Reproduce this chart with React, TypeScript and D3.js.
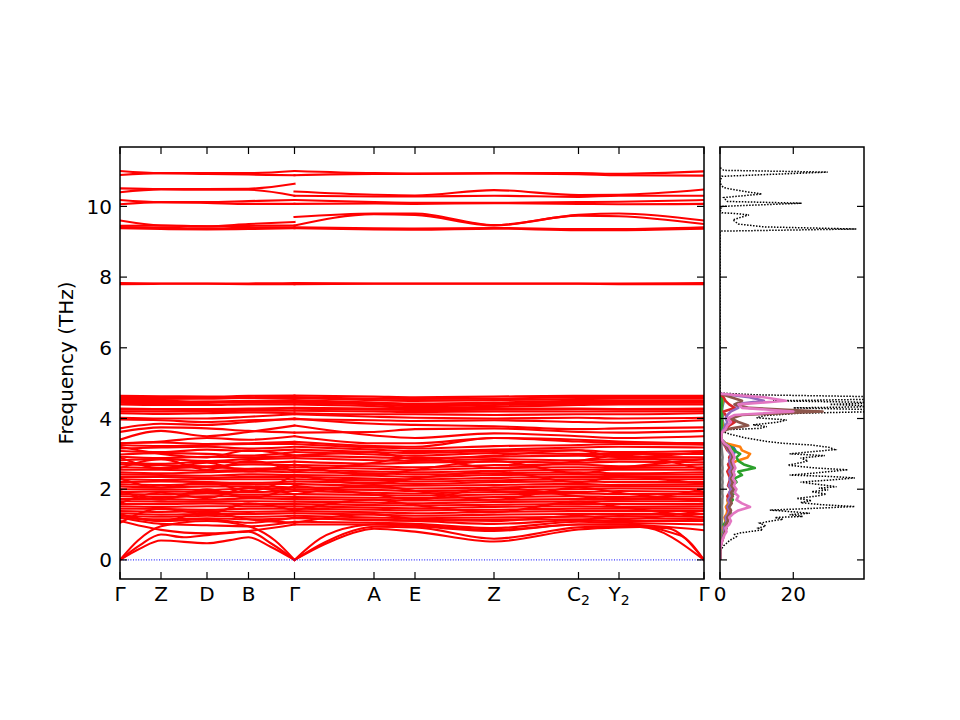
import * as d3 from 'd3';
import React from 'react';

// k-path: tick positions along the path (same units as the x axis)
const KPOS = [0, 41, 87, 128.5, 174.5, 254, 295, 374, 458.5, 499, 584];
const KLABELS: [string, string][] = [
  ['Γ', ''], ['Z', ''], ['D', ''], ['B', ''], ['Γ', ''], ['A', ''],
  ['E', ''], ['Z', ''], ['C', '2'], ['Y', '2'], ['Γ', ''],
];
const FREQ_TICKS = [0, 2, 4, 6, 8, 10];
const DOS_TICKS = [0, 20];

// bands: 5 values on Γ-Z-D-B-Γ, then 7 values on Γ-A-E-Z-C2-Y2-Γ
const UPPER_BANDS = [
  [11.0, 10.94, 10.94, 10.94, 11.0, 11.0, 10.94, 10.93, 10.94, 10.94, 10.92, 10.99],
  [10.89, 10.94, 10.92, 10.9, 10.88, 10.88, 10.92, 10.92, 10.93, 10.91, 10.88, 10.87],
  [10.51, 10.49, 10.49, 10.5, 10.64, 10.42, 10.33, 10.31, 10.46, 10.32, 10.33, 10.48],
  [10.4, 10.48, 10.47, 10.47, 10.3, 10.3, 10.28, 10.28, 10.3, 10.27, 10.3, 10.3],
  [10.18, 10.12, 10.12, 10.15, 10.18, 10.18, 10.12, 10.1, 10.1, 10.12, 10.13, 10.18],
  [10.06, 10.12, 10.1, 10.07, 10.07, 10.07, 10.08, 10.07, 10.09, 10.07, 10.06, 10.07],
  [9.6, 9.46, 9.44, 9.5, 9.56, 9.7, 9.8, 9.8, 9.47, 9.76, 9.8, 9.6],
  [9.45, 9.46, 9.44, 9.45, 9.46, 9.46, 9.78, 9.76, 9.46, 9.74, 9.72, 9.5],
  [9.41, 9.4, 9.38, 9.4, 9.41, 9.41, 9.38, 9.37, 9.39, 9.36, 9.36, 9.41],
  [9.38, 9.36, 9.35, 9.36, 9.38, 9.38, 9.35, 9.34, 9.37, 9.33, 9.33, 9.37],
  [7.83, 7.82, 7.82, 7.82, 7.83, 7.83, 7.82, 7.82, 7.82, 7.82, 7.82, 7.83],
  [7.8, 7.81, 7.81, 7.8, 7.8, 7.8, 7.81, 7.81, 7.81, 7.81, 7.8, 7.8],
];

const MID_BANDS = [
  [4.64, 4.63, 4.62, 4.64, 4.65, 4.65, 4.62, 4.6, 4.62, 4.64, 4.64, 4.64],
  [4.6, 4.58, 4.59, 4.6, 4.61, 4.61, 4.56, 4.55, 4.56, 4.6, 4.6, 4.6],
  [4.55, 4.55, 4.56, 4.58, 4.58, 4.58, 4.52, 4.5, 4.52, 4.55, 4.56, 4.56],
  [4.5, 4.5, 4.48, 4.5, 4.52, 4.52, 4.45, 4.42, 4.45, 4.5, 4.5, 4.5],
  [4.47, 4.46, 4.47, 4.48, 4.47, 4.47, 4.44, 4.4, 4.42, 4.46, 4.47, 4.48],
  [4.45, 4.42, 4.44, 4.45, 4.45, 4.45, 4.4, 4.35, 4.38, 4.42, 4.44, 4.45],
  [4.4, 4.38, 4.38, 4.4, 4.4, 4.4, 4.35, 4.3, 4.33, 4.38, 4.4, 4.4],
  [4.28, 4.27, 4.27, 4.28, 4.3, 4.3, 4.28, 4.27, 4.28, 4.28, 4.27, 4.28],
  [4.25, 4.25, 4.24, 4.25, 4.28, 4.28, 4.25, 4.24, 4.25, 4.26, 4.25, 4.25],
  [4.2, 4.2, 4.2, 4.22, 4.22, 4.22, 4.2, 4.18, 4.2, 4.2, 4.2, 4.2],
  [4.15, 4.13, 4.15, 4.17, 4.15, 4.15, 4.12, 4.12, 4.1, 4.12, 4.12, 4.15],
  [4.02, 4.0, 4.0, 4.05, 4.12, 4.12, 4.05, 4.02, 4.0, 4.02, 4.0, 4.02],
  [3.97, 3.95, 3.9, 3.95, 3.98, 3.98, 3.95, 3.93, 3.95, 3.9, 3.88, 3.95],
  [3.72, 3.85, 3.82, 3.9, 4.0, 4.0, 3.85, 3.82, 3.78, 3.7, 3.72, 3.75],
  [3.62, 3.75, 3.72, 3.65, 3.6, 3.6, 3.62, 3.7, 3.72, 3.62, 3.6, 3.65],
  [3.4, 3.65, 3.5, 3.62, 3.8, 3.8, 3.52, 3.45, 3.58, 3.5, 3.45, 3.5],
  [3.3, 3.35, 3.45, 3.4, 3.5, 3.5, 3.3, 3.3, 3.45, 3.4, 3.35, 3.3],
];

const DENSE_BANDS = [
  [3.3, 3.32, 3.28, 3.3, 3.34, 3.34, 3.22, 3.2, 3.45, 3.35, 3.32, 3.3],
  [3.25, 3.22, 3.25, 3.28, 3.28, 3.28, 3.18, 3.15, 3.22, 3.25, 3.28, 3.26],
  [3.15, 3.18, 3.2, 3.15, 3.2, 3.2, 3.12, 3.08, 3.12, 3.18, 3.2, 3.18],
  [3.08, 3.05, 3.12, 3.08, 3.12, 3.12, 3.05, 3.02, 3.08, 3.1, 3.05, 3.08],
  [2.98, 3.02, 3.0, 2.95, 3.05, 3.05, 2.98, 2.95, 3.02, 3.0, 3.0, 3.0],
  [2.92, 2.88, 2.92, 2.9, 2.95, 2.95, 2.9, 2.88, 2.92, 2.95, 2.92, 2.9],
  [2.82, 2.85, 2.8, 2.85, 2.88, 2.88, 2.82, 2.8, 2.85, 2.82, 2.85, 2.84],
  [2.75, 2.72, 2.78, 2.75, 2.78, 2.78, 2.72, 2.75, 2.78, 2.75, 2.78, 2.76],
  [2.7, 2.68, 2.65, 2.7, 2.68, 2.68, 2.65, 2.62, 2.68, 2.7, 2.65, 2.7],
  [2.62, 2.6, 2.62, 2.58, 2.62, 2.62, 2.58, 2.55, 2.6, 2.62, 2.6, 2.62],
  [2.55, 2.55, 2.52, 2.55, 2.55, 2.55, 2.5, 2.48, 2.52, 2.55, 2.55, 2.55],
  [2.48, 2.45, 2.48, 2.5, 2.48, 2.48, 2.45, 2.42, 2.45, 2.48, 2.45, 2.48],
  [2.42, 2.4, 2.38, 2.42, 2.4, 2.4, 2.38, 2.35, 2.4, 2.42, 2.4, 2.42],
  [2.35, 2.35, 2.32, 2.35, 2.35, 2.35, 2.3, 2.28, 2.32, 2.35, 2.35, 2.35],
  [2.28, 2.26, 2.28, 2.28, 2.28, 2.28, 2.25, 2.22, 2.25, 2.28, 2.28, 2.28],
  [2.2, 2.22, 2.2, 2.18, 2.22, 2.22, 2.18, 2.15, 2.2, 2.22, 2.2, 2.2],
  [2.14, 2.12, 2.15, 2.14, 2.15, 2.15, 2.1, 2.1, 2.12, 2.15, 2.12, 2.14],
  [2.08, 2.05, 2.08, 2.08, 2.05, 2.05, 2.05, 2.02, 2.05, 2.08, 2.08, 2.08],
  [2.0, 2.0, 1.98, 2.02, 2.0, 2.0, 1.98, 1.95, 1.98, 2.0, 2.02, 2.0],
  [1.92, 1.94, 1.92, 1.92, 1.95, 1.95, 1.9, 1.88, 1.92, 1.92, 1.95, 1.92],
  [1.86, 1.85, 1.88, 1.85, 1.86, 1.86, 1.84, 1.82, 1.85, 1.88, 1.86, 1.86],
  [1.8, 1.78, 1.8, 1.8, 1.78, 1.78, 1.76, 1.75, 1.78, 1.8, 1.78, 1.8],
  [1.72, 1.72, 1.7, 1.74, 1.72, 1.72, 1.7, 1.68, 1.7, 1.72, 1.72, 1.72],
  [1.66, 1.65, 1.65, 1.66, 1.65, 1.65, 1.62, 1.6, 1.64, 1.65, 1.66, 1.66],
  [1.58, 1.58, 1.6, 1.58, 1.58, 1.58, 1.55, 1.54, 1.56, 1.58, 1.58, 1.58],
  [1.52, 1.5, 1.52, 1.52, 1.52, 1.52, 1.48, 1.46, 1.5, 1.52, 1.5, 1.52],
  [1.45, 1.44, 1.42, 1.45, 1.45, 1.45, 1.42, 1.4, 1.42, 1.45, 1.45, 1.45],
  [1.38, 1.36, 1.38, 1.36, 1.38, 1.38, 1.35, 1.32, 1.36, 1.38, 1.38, 1.38],
  [1.32, 1.28, 1.3, 1.3, 1.32, 1.32, 1.28, 1.25, 1.28, 1.3, 1.3, 1.3],
  [1.25, 1.22, 1.25, 1.22, 1.25, 1.25, 1.2, 1.18, 1.2, 1.22, 1.24, 1.22],
  [1.18, 1.15, 1.18, 1.15, 1.18, 1.18, 1.14, 1.12, 1.14, 1.15, 1.18, 1.15],
  // branches that wander across the block
  [1.05, 1.45, 1.3, 1.6, 1.4, 1.4, 1.7, 1.55, 1.35, 1.65, 1.5, 1.2],
  [2.9, 2.6, 2.75, 2.5, 2.7, 2.7, 2.4, 2.55, 2.8, 2.45, 2.6, 2.85],
  [1.6, 1.9, 1.75, 2.05, 1.85, 1.85, 2.1, 1.95, 1.7, 2.05, 1.9, 1.65],
  [2.3, 2.05, 2.2, 1.95, 2.4, 2.4, 2.15, 2.3, 2.5, 2.2, 2.35, 2.15],
  [1.25, 1.1, 1.35, 1.15, 1.05, 1.05, 1.3, 1.15, 1.1, 1.25, 1.15, 1.4],
  [3.2, 3.0, 2.9, 3.1, 2.95, 2.95, 3.05, 2.85, 2.95, 3.1, 2.9, 3.05],
  [2.6, 2.85, 2.55, 2.8, 2.5, 2.5, 2.75, 2.9, 2.6, 2.8, 2.95, 2.55],
  [1.95, 1.7, 2.0, 1.75, 2.1, 2.1, 1.85, 1.7, 2.05, 1.8, 1.7, 2.0],
];

const LOW_BANDS = [
  [1.1, 0.85, 0.75, 0.82, 1.0, 1.0, 1.0, 0.95, 0.82, 1.0, 1.0, 0.84],
  [1.2, 1.02, 0.98, 0.95, 1.08, 1.08, 1.05, 1.02, 0.9, 1.08, 1.05, 1.0],
  [1.3, 1.1, 1.15, 1.05, 1.2, 1.2, 1.12, 1.1, 1.02, 1.12, 1.1, 1.1],
];

// acoustic branches, sampled as [q, frequency]
const ACOUSTIC_LEFT: [number, number][][] = [
  [[0, 0], [20, 0.32], [41, 0.55], [87, 0.47], [110, 0.56], [128.5, 0.64], [150, 0.38], [174.5, 0]],
  [[0, 0], [20, 0.42], [41, 0.72], [64, 0.64], [87, 0.7], [128.5, 0.8], [152, 0.45], [174.5, 0]],
  [[0, 0], [18, 0.55], [41, 0.95], [87, 1.1], [128.5, 0.95], [155, 0.55], [174.5, 0]],
];
const ACOUSTIC_RIGHT: [number, number][][] = [
  [[174.5, 0], [205, 0.45], [240, 0.82], [254, 0.88], [295, 0.8], [374, 0.52], [458.5, 0.86], [499, 0.92], [520, 0.93], [584, 0]],
  [[174.5, 0], [205, 0.5], [240, 0.88], [254, 0.94], [295, 0.92], [374, 0.6], [458.5, 0.92], [499, 0.95], [547, 0.9], [584, 0]],
  [[174.5, 0], [200, 0.6], [235, 0.95], [254, 1.0], [295, 0.98], [374, 0.85], [458.5, 1.0], [499, 1.0], [560, 0.7], [584, 0]],
];

// total DOS as [frequency, states]
const TOTAL_DOS: [number, number][] = [
  [0, 0], [0.28, 0.2], [0.4, 1.0], [0.47, 1.8], [0.55, 2.6], [0.66, 4.5], [0.72, 4.0], [0.76, 5.4],
  [0.8, 8.0], [0.85, 11.7], [0.9, 10.5], [0.96, 12.5], [1.04, 10.9], [1.1, 14], [1.15, 17.2], [1.2, 15],
  [1.23, 22.6], [1.28, 19], [1.32, 24.5], [1.36, 20], [1.41, 13.6], [1.46, 26], [1.51, 36.8], [1.56, 28],
  [1.62, 22], [1.68, 25], [1.74, 20.9], [1.8, 26], [1.86, 29], [1.93, 25], [1.98, 29.5], [2.03, 27],
  [2.07, 31.8], [2.12, 28], [2.2, 22], [2.26, 30], [2.32, 36.8], [2.36, 30], [2.4, 19], [2.45, 25],
  [2.5, 30], [2.55, 34.9], [2.6, 26], [2.68, 18.5], [2.75, 22], [2.8, 24], [2.88, 22], [2.95, 28.6],
  [3.0, 19], [3.05, 24], [3.12, 31.3], [3.18, 30], [3.25, 25], [3.3, 17], [3.35, 12.8], [3.45, 7],
  [3.55, 3], [3.62, 1.0], [3.68, 0.8], [3.72, 10.9], [3.77, 12.8], [3.82, 9], [3.9, 16], [3.96, 18.2],
  [4.02, 10], [4.08, 12], [4.15, 21.8], [4.2, 45], [4.25, 42], [4.3, 20], [4.34, 45], [4.4, 30],
  [4.45, 45], [4.5, 14.5], [4.55, 45], [4.62, 40], [4.67, 10], [4.72, 0],
  [9.3, 0], [9.36, 37.2], [9.42, 12], [9.5, 5], [9.62, 3.5], [9.7, 6], [9.76, 7.9], [9.8, 4],
  [9.82, 0.5], [9.9, 0], [10.0, 0.5], [10.09, 22.3], [10.14, 2], [10.25, 1], [10.35, 11.4], [10.45, 5],
  [10.53, 1], [10.6, 0.3], [10.7, 0], [10.85, 0.5], [10.97, 29.4], [11.02, 1], [11.1, 0],
];

// partial DOS sampled every 0.1 THz from 0 to 4.7 THz
const PDOS_FREQ = d3.range(48).map((i) => i / 10);
const PDOS_GRAY = [0, 0, 0, 0, 0.1, 0.2, 0.3, 0.3, 0.4, 0.4, 0.5, 0.5, 0.5, 0.6, 0.6, 0.5, 0.6, 0.6, 0.7, 0.6, 0.7, 0.6, 0.7, 0.6, 0.7, 0.6, 0.7, 0.6, 0.6, 0.7, 0.6, 0.5, 0.4, 0.3, 0.2, 0.1, 0.2, 0.3, 0.4, 0.4, 0.3, 0.4, 0.5, 0.5, 0.4, 0.5, 0.4, 0];
const PDOS_BLUE = [0, 0, 0, 0, 0.2, 0.4, 0.6, 0.8, 1.2, 1.0, 1.5, 1.8, 1.4, 2.0, 2.2, 1.8, 2.5, 2.0, 2.8, 3.0, 3.5, 2.6, 3.0, 3.2, 2.8, 3.8, 2.5, 3.0, 2.6, 3.5, 3.8, 4.2, 3.6, 1.5, 0.5, 0.2, 0.2, 0.8, 1.0, 0.8, 0.6, 0.8, 0.5, 0.6, 0.8, 1.0, 0.6, 0];
const PDOS_ORANGE = [0, 0, 0, 0, 0.1, 0.3, 0.5, 0.6, 1.0, 0.8, 1.2, 1.5, 1.2, 1.8, 2.0, 1.6, 2.2, 2.0, 2.5, 2.8, 3.0, 2.4, 3.2, 2.8, 3.0, 3.5, 4.0, 3.0, 4.5, 7.5, 8.2, 6.0, 5.5, 1.5, 0.4, 0.1, 0.2, 0.5, 0.8, 0.6, 0.5, 0.6, 0.4, 0.5, 0.6, 0.8, 0.5, 0];
const PDOS_GREEN = [0, 0, 0, 0, 0.1, 0.3, 0.5, 0.7, 1.0, 1.2, 1.0, 1.8, 1.5, 3.0, 2.5, 2.0, 2.5, 3.5, 3.0, 4.0, 3.5, 3.0, 4.5, 3.8, 6.0, 5.0, 9.5, 6.5, 5.0, 4.5, 5.5, 3.8, 3.0, 1.2, 0.3, 0.1, 0.2, 0.4, 0.6, 0.5, 0.4, 0.5, 0.4, 0.4, 0.5, 0.6, 0.4, 0];
const PDOS_RED = [0, 0, 0, 0, 0.2, 0.5, 0.8, 1.0, 1.5, 1.2, 1.8, 2.0, 1.6, 2.5, 2.2, 2.0, 2.8, 2.4, 2.0, 2.6, 3.0, 2.2, 2.5, 2.8, 2.4, 2.0, 2.6, 2.2, 2.8, 2.5, 3.0, 2.0, 1.5, 0.8, 0.3, 0.2, 0.5, 1.5, 2.5, 4.0, 2.0, 1.5, 1.0, 4.0, 2.5, 1.5, 1.0, 0];
const PDOS_PURPLE = [0, 0, 0, 0, 0.1, 0.3, 0.6, 0.8, 1.2, 1.0, 1.5, 1.8, 1.5, 2.2, 2.5, 2.0, 2.6, 2.2, 2.8, 2.5, 3.0, 2.4, 2.8, 2.6, 3.0, 2.5, 3.2, 2.8, 2.5, 3.0, 2.8, 2.2, 1.8, 0.8, 0.3, 0.2, 0.4, 1.0, 1.5, 2.0, 1.5, 2.0, 3.0, 5.0, 4.0, 12.0, 8.0, 0];
const PDOS_BROWN = [0, 0, 0, 0, 0.2, 0.4, 0.7, 1.0, 1.4, 1.8, 1.5, 2.2, 2.0, 2.6, 3.0, 2.5, 3.2, 2.8, 3.5, 3.0, 3.8, 3.2, 3.5, 3.0, 3.6, 3.2, 3.8, 3.4, 3.0, 3.5, 3.2, 2.5, 2.0, 1.0, 0.4, 0.3, 0.5, 2.0, 7.7, 5.0, 3.0, 6.0, 28.0, 8.0, 4.0, 6.0, 3.0, 0];
const PDOS_PINK = [0, 0, 0, 0, 0.2, 0.5, 0.8, 1.2, 1.8, 1.5, 2.5, 3.0, 2.5, 3.5, 5.0, 8.2, 6.0, 4.5, 5.0, 4.0, 4.5, 3.8, 4.2, 3.5, 4.0, 3.6, 4.2, 3.8, 3.5, 4.0, 3.6, 3.0, 2.5, 1.2, 0.5, 0.3, 0.5, 1.5, 2.0, 3.0, 2.0, 4.0, 20.0, 6.0, 5.0, 18.0, 12.0, 0];

const PDOS = [PDOS_GRAY, PDOS_BLUE, PDOS_ORANGE, PDOS_GREEN, PDOS_RED, PDOS_PURPLE, PDOS_BROWN, PDOS_PINK];
const PDOS_COLORS = ['#7f7f7f', '#1f77b4', '#ff7f0e', '#2ca02c', '#d62728', '#9467bd', '#8c564b', '#e377c2'];

const FONT = 'DejaVu Sans, sans-serif';
const FS = 20;

const App: React.FC = () => {
  const top = 147;
  const bottom = 579;
  const band = { left: 120, right: 704 };
  const dos = { left: 720, right: 864 };
  const tickLen = 7;

  const y = d3.scaleLinear().domain([-0.54, 11.68]).range([bottom, top]);
  const xb = d3.scaleLinear().domain([0, 584]).range([band.left, band.right]);
  const xd = d3.scaleLinear().domain([0, 39.3]).range([dos.left, dos.right]);

  const bandLine = d3
    .line<[number, number]>()
    .x((d) => xb(d[0]))
    .y((d) => y(d[1]))
    .curve(d3.curveMonotoneX);

  const allBands = [...UPPER_BANDS, ...MID_BANDS, ...DENSE_BANDS, ...LOW_BANDS];
  const segPaths: string[] = [];
  allBands.forEach((b) => {
    const s1 = KPOS.slice(0, 5).map((q, i) => [q, b[i]] as [number, number]);
    const s2 = KPOS.slice(4).map((q, i) => [q, b[5 + i]] as [number, number]);
    segPaths.push(bandLine(s1) || '', bandLine(s2) || '');
  });
  [...ACOUSTIC_LEFT, ...ACOUSTIC_RIGHT].forEach((a) => segPaths.push(bandLine(a) || ''));

  const dosLine = d3
    .line<[number, number]>()
    .x((d) => xd(d[1]))
    .y((d) => y(d[0]));

  return (
    <svg
      width={960}
      height={720}
      style={{ position: 'absolute', left: 0, top: 0, background: '#fff' }}
      fontFamily={FONT}
    >
      <defs>
        <clipPath id="clipBand">
          <rect x={band.left} y={top} width={band.right - band.left} height={bottom - top} />
        </clipPath>
        <clipPath id="clipDos">
          <rect x={dos.left} y={top} width={dos.right - dos.left} height={bottom - top} />
        </clipPath>
      </defs>

      {/* band structure */}
      <g clipPath="url(#clipBand)">
        {segPaths.map((p, i) => (
          <path
            key={i}
            d={p}
            fill="none"
            stroke="#ff0000"
            strokeWidth={2.1}
            strokeLinejoin="round"
            strokeLinecap="square"
          />
        ))}
        <line
          x1={band.left}
          x2={band.right}
          y1={y(0)}
          y2={y(0)}
          stroke="#0000ff"
          strokeWidth={1}
          strokeDasharray="1,1.6"
        />
      </g>

      {/* DOS */}
      <g clipPath="url(#clipDos)">
        <path
          d={dosLine(TOTAL_DOS) || ''}
          fill="none"
          stroke="#000"
          strokeWidth={1.5}
          strokeDasharray="1.5,1.5"
        />
        {PDOS.map((vals, k) => (
          <path
            key={k}
            d={dosLine(PDOS_FREQ.map((f, i) => [f, vals[i]] as [number, number])) || ''}
            fill="none"
            stroke={PDOS_COLORS[k]}
            strokeWidth={2.6}
            strokeLinejoin="round"
          />
        ))}
      </g>

      {/* frames */}
      <rect x={band.left} y={top} width={band.right - band.left} height={bottom - top} fill="none" stroke="#000" strokeWidth={1.5} />
      <rect x={dos.left} y={top} width={dos.right - dos.left} height={bottom - top} fill="none" stroke="#000" strokeWidth={1.5} />

      {/* frequency ticks */}
      {FREQ_TICKS.map((t) => (
        <g key={t} stroke="#000" strokeWidth={1.2}>
          <line x1={band.left} x2={band.left + tickLen} y1={y(t)} y2={y(t)} />
          <line x1={band.right} x2={band.right - tickLen} y1={y(t)} y2={y(t)} />
          <line x1={dos.left} x2={dos.left + tickLen} y1={y(t)} y2={y(t)} />
          <line x1={dos.right} x2={dos.right - tickLen} y1={y(t)} y2={y(t)} />
        </g>
      ))}
      {FREQ_TICKS.map((t) => (
        <text key={t} x={112} y={y(t)} dy="0.36em" textAnchor="end" fontSize={FS} fill="#000">
          {t}
        </text>
      ))}
      <text
        transform={`translate(73, ${(top + bottom) / 2}) rotate(-90)`}
        textAnchor="middle"
        fontSize={FS}
        fill="#000"
      >
        Frequency (THz)
      </text>

      {/* k-point ticks and labels */}
      {KPOS.map((q, i) => (
        <g key={i} stroke="#000" strokeWidth={1.2}>
          <line x1={xb(q)} x2={xb(q)} y1={bottom} y2={bottom - tickLen} />
          <line x1={xb(q)} x2={xb(q)} y1={top} y2={top + tickLen} />
        </g>
      ))}
      {KLABELS.map(([main, sub], i) => (
        <text key={i} x={xb(KPOS[i])} y={601} textAnchor="middle" fontSize={FS} fill="#000">
          {main}
          {sub && (
            <tspan fontSize={14} dy={4}>
              {sub}
            </tspan>
          )}
        </text>
      ))}

      {/* DOS ticks */}
      {DOS_TICKS.map((t) => (
        <g key={t} stroke="#000" strokeWidth={1.2}>
          <line x1={xd(t)} x2={xd(t)} y1={bottom} y2={bottom - tickLen} />
          <line x1={xd(t)} x2={xd(t)} y1={top} y2={top + tickLen} />
        </g>
      ))}
      {DOS_TICKS.map((t) => (
        <text key={t} x={xd(t)} y={601} textAnchor="middle" fontSize={FS} fill="#000">
          {t}
        </text>
      ))}
    </svg>
  );
};

export default App;
